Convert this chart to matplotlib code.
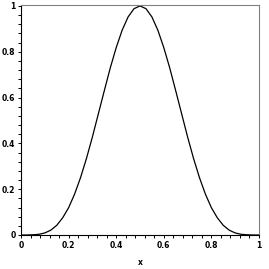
import matplotlib
matplotlib.use("Agg")
import matplotlib.pyplot as plt
from matplotlib.ticker import MultipleLocator, FuncFormatter

half_x = [0.0, 0.025, 0.05, 0.075, 0.1, 0.125, 0.15, 0.175, 0.2, 0.225, 0.25,
          0.275, 0.3, 0.325, 0.35, 0.375, 0.4, 0.425, 0.45, 0.475, 0.5]
half_y = [0.0, 0.000, 0.001, 0.003, 0.009, 0.021, 0.042, 0.075, 0.119, 0.178, 0.250,
          0.334, 0.428, 0.529, 0.630, 0.729, 0.818, 0.894, 0.952, 0.988, 1.0]
x_vals = half_x + [1.0 - v for v in reversed(half_x[:-1])]
y_vals = half_y + list(reversed(half_y[:-1]))

x_ticks = [0, 0.2, 0.4, 0.6, 0.8, 1]
y_ticks = [0, 0.2, 0.4, 0.6, 0.8, 1]
x_label = "x"

fig = plt.figure(figsize=(2.69, 2.69), dpi=100)
ax = fig.add_axes([21/269, 34/269, 238/269, 230/269])
ax.plot(x_vals, y_vals, color="black", lw=0.9)
ax.set_xlim(0, 1)
ax.set_ylim(0, 1.004)
ax.set_xticks(x_ticks)
ax.set_yticks(y_ticks)
fmt = FuncFormatter(lambda v, p: ("%g" % v))
ax.xaxis.set_major_formatter(fmt)
ax.yaxis.set_major_formatter(fmt)
ax.xaxis.set_minor_locator(MultipleLocator(0.04))
ax.yaxis.set_minor_locator(MultipleLocator(0.04))
ax.tick_params(which="both", direction="out", length=2, width=0.7, color="black",
               labelsize=5.5, pad=2)
for lab in ax.get_xticklabels() + ax.get_yticklabels():
    lab.set_fontweight("bold")
ax.spines["left"].set_color("black")
ax.spines["bottom"].set_color("black")
ax.spines["top"].set_color("#808080")
ax.spines["right"].set_color("#808080")
for s in ax.spines.values():
    s.set_linewidth(0.8)
ax.set_xlabel(x_label, fontsize=5.5, fontweight="bold", labelpad=6)
fig.savefig("out.png", dpi=100)
